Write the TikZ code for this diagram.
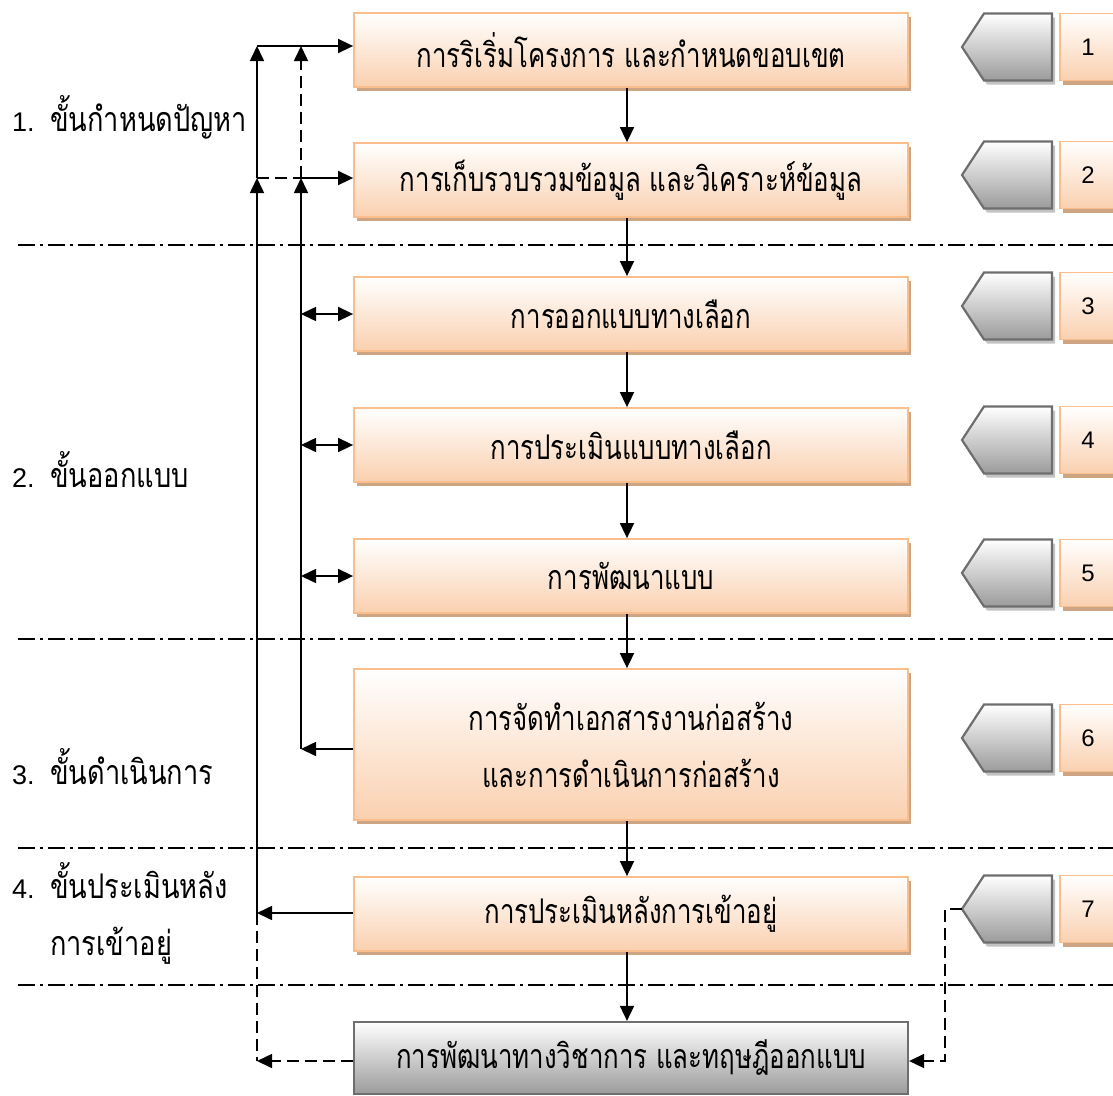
\documentclass[tikz,border=0pt]{standalone}
\usepackage{fontspec}
\setmainfont{Liberation Sans}
\newfontfamily\thai[Script=Thai, FakeStretch=0.76]{Loma}
\newfontfamily\thaiwide[Script=Thai, FakeStretch=0.8]{Loma}
\usetikzlibrary{arrows.meta,shadows,calc}

\definecolor{peach}{RGB}{250,208,175}
\definecolor{peachline}{RGB}{250,190,140}
\definecolor{tanshadow}{RGB}{205,165,130}
\definecolor{greybot}{RGB}{155,155,155}
\definecolor{greyline}{RGB}{110,110,110}
\definecolor{greyshadow}{RGB}{195,195,195}

\tikzset{
  stagebox/.style={draw=peachline, line width=1.8pt, top color=white, bottom color=peach,
    minimum width=554pt, minimum height=74pt, inner sep=0pt,
    font=\thai\fontsize{34}{57}\selectfont,
    drop shadow={shadow xshift=3pt, shadow yshift=-4pt, fill=tanshadow, opacity=1}},
  greybox/.style={draw=greyline, line width=2.2pt, top color=white, bottom color=greybot,
    minimum width=554pt, minimum height=72pt, inner sep=0pt,
    font=\thai\fontsize{34}{57}\selectfont},
  numbox/.style={draw=peachline, line width=1.8pt, top color=white, bottom color=peach,
    minimum width=56pt, minimum height=67pt, inner sep=0pt,
    font=\fontsize{24}{28}\selectfont,
    drop shadow={shadow xshift=3pt, shadow yshift=-4pt, fill=tanshadow, opacity=1}},
  tabshape/.style={draw=greyline, line width=2.2pt, top color=white, bottom color=greybot,
    drop shadow={shadow xshift=3pt, shadow yshift=-4pt, fill=greyshadow, opacity=1}},
  phase/.style={anchor=west, inner sep=0pt, align=left,
    font=\fontsize{27}{57}\selectfont},
  arr/.style={-{Triangle[length=15pt,width=14pt]}, line width=1.6pt},
  darr/.style={{Triangle[length=15pt,width=14pt]}-{Triangle[length=15pt,width=14pt]}, line width=1.6pt},
  dashline/.style={dash pattern=on 12pt off 6pt},
  sepline/.style={line width=1.5pt, dash pattern=on 17pt off 5pt on 3pt off 5pt}
}
% phase label: number column followed by Thai text
\newcommand\phasenum[1]{\makebox[38pt][l]{#1}}
\newcommand\phasetext[1]{{\thaiwide\fontsize{34}{57}\selectfont #1}}

\begin{document}
\begin{tikzpicture}[x=1pt,y=-1pt]
\useasboundingbox (0,0) rectangle (1113,1095);

% phase separators
\foreach \yy in {245,639,848,985}
  \draw[sepline] (18,\yy) -- (1113,\yy);

% process boxes
\node[stagebox] (b1) at (631,50) {การริเริ่มโครงการ และกำหนดขอบเขต};
\node[stagebox] (b2) at (631,180) {การเก็บรวบรวมข้อมูล และวิเคราะห์ข้อมูล};
\node[stagebox] (b3) at (631,314) {การออกแบบทางเลือก};
\node[stagebox] (b4) at (631,445) {การประเมินแบบทางเลือก};
\node[stagebox] (b5) at (631,576) {การพัฒนาแบบ};
\node[stagebox, minimum height=151pt, align=center] (b6) at (631,744.5)
  {การจัดทำเอกสารงานก่อสร้าง\\และการดำเนินการก่อสร้าง};
\node[stagebox] (b7) at (631,914) {การประเมินหลังการเข้าอยู่};
\node[greybox] (b8) at (631,1058) {การพัฒนาทางวิชาการ และทฤษฎีออกแบบ};

% step tabs and numbers
\foreach \i/\c in {1/47,2/175,3/306,4/440,5/573,6/738,7/909}{
  \path[tabshape] (962,\c) -- (984,\c-33.5) -- (1052,\c-33.5) -- (1052,\c+33.5)
    -- (984,\c+33.5) -- cycle;
  \coordinate (p\i) at (962,\c);
  \node[numbox] (n\i) at (1088,\c) {\i};
}

% phase labels
\node[phase] (l1) at (12,117) {\phasenum{1.}\phasetext{ขั้นกำหนดปัญหา}};
\node[phase] (l2) at (12,470) {\phasenum{2.}\phasetext{ขั้นออกแบบ}};
\node[phase] (l3) at (12,767) {\phasenum{3.}\phasetext{ขั้นดำเนินการ}};
\node[phase] (l4) at (12,913) {\phasenum{4.}\phasetext{ขั้นประเมินหลัง}\\\phasenum{}\phasetext{การเข้าอยู่}};

% main flow
\foreach \a/\b in {b1/b2,b2/b3,b3/b4,b4/b5,b5/b6,b6/b7,b7/b8}
  \draw[arr] ([xshift=-4pt]\a.south) -- ([xshift=-4pt]\b.north);

% feedback lines
\coordinate (aTop) at (257,46);
\coordinate (bTop) at (301,46);
\coordinate (aMid) at (257,178);
\coordinate (bMid) at (301,178);
\coordinate (bLow) at (301,749);
\coordinate (aLow) at (257,913);
\coordinate (aEnd) at (257,1061);

\draw[arr] (aLow) -- (aMid);
\draw[arr] (aMid) -- (aTop);
\draw[arr] (aTop) -- (aTop -| b1.west);
\draw[arr] (bLow) -- (bMid);
\draw[arr, dashline] (bMid) -- (bTop);
\draw[dashline, line width=1.6pt] (aMid) -- (bMid);
\draw[arr] (bMid) -- (bMid -| b2.west);
\draw[darr] (b3.west -| bMid) -- (b3.west);
\draw[darr] (b4.west -| bMid) -- (b4.west);
\draw[darr] (b5.west -| bMid) -- (b5.west);
\draw[arr] (b6.west |- bLow) -- (bLow);
\draw[arr] (b7.west |- aLow) -- (aLow);
\draw[dashline, line width=1.6pt] (aLow) -- (aEnd);
\draw[arr, dashline] (b8.west |- aEnd) -- (aEnd);

% link from tab 7
\coordinate (r1) at (945,909);
\coordinate (r2) at (945,1061);
\draw[arr, dashline] (p7) -- (r1) -- (r2) -- (r2 -| b8.east);
\end{tikzpicture}
\end{document}
